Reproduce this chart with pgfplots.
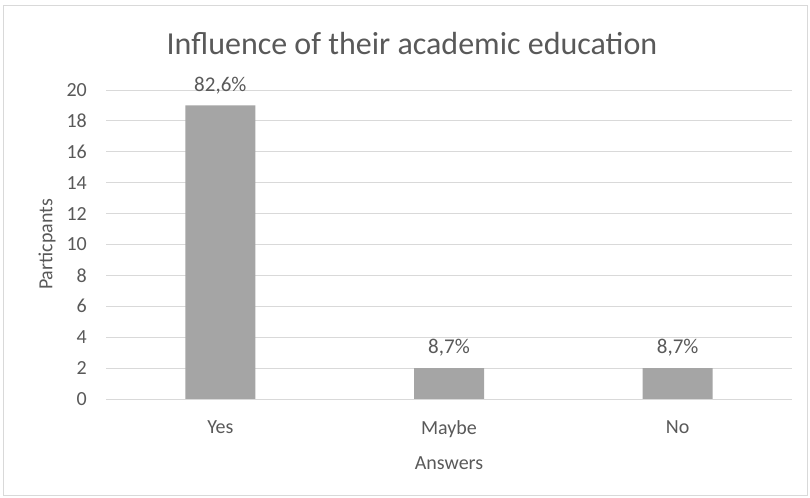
\documentclass[border=0pt]{standalone}
\usepackage{pgfplots}
\pgfplotsset{compat=1.18}
\usepackage{fontspec}
\setmainfont{Carlito}
\definecolor{txt}{HTML}{595959}
\definecolor{barc}{HTML}{A5A5A5}
\definecolor{gridc}{HTML}{D9D9D9}
\begin{document}
\begin{tikzpicture}
\path[use as bounding box] (0,0) rectangle (810bp,498bp);
\draw[gridc, line width=0.8bp] (3bp,3bp) rectangle (807bp,493bp);
\begin{axis}[
  at={(106bp,99bp)}, anchor=south west,
  scale only axis, width=686bp, height=309bp,
  xmin=-0.5, xmax=2.5, ymin=0, ymax=20,
  ytick={0,2,...,20},
  xtick={0,1,2}, xticklabels={Yes,Maybe,No},
  axis line style={draw=none},
  tick style={draw=none},
  ymajorgrids, major grid style={gridc, line width=0.8bp},
  /pgf/number format/assume math mode=true,
  tick label style={font=\fontsize{20bp}{23bp}\selectfont, text=txt},
  yticklabel style={inner sep=0pt, xshift=-19bp},
  xticklabel style={inner sep=0pt, yshift=-17bp},
  xlabel={Answers}, ylabel={Particpants},
  label style={font=\fontsize{20bp}{23bp}\selectfont, text=txt},
  x label style={at={(axis description cs:0.5,-0.207)}, anchor=center},
  y label style={at={(axis description cs:-0.086,0.5)}, anchor=center},
  title={Influence of their academic education},
  title style={font=\fontsize{32bp}{36bp}\selectfont, text=txt, at={(axis description cs:0.446,1.13)}, anchor=center},
  ybar, bar width=70bp,
  nodes near coords, point meta=explicit symbolic,
  every node near coord/.append style={font=\fontsize{21bp}{24bp}\selectfont, text=txt, yshift=8bp},
]
\addplot[fill=barc, draw=none] table[meta=lab] {
x y lab
0 19 82,6\%
1 2 8,7\%
2 2 8,7\%
};
\end{axis}
\end{tikzpicture}
\end{document}
